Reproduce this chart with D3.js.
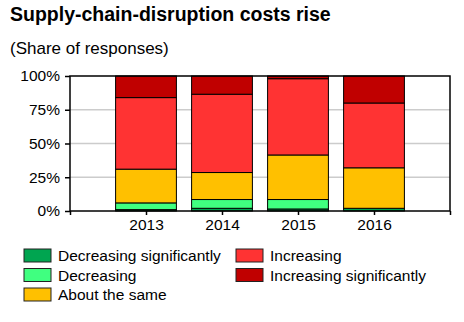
<!DOCTYPE html>
<html>
<head>
<meta charset="utf-8">
<script src="https://cdn.jsdelivr.net/npm/d3@7"></script>
<style>
  body { margin: 0; background: #fff; }
  text { font-family: "Liberation Sans", Arial, sans-serif; fill: #000; }
</style>
</head>
<body>
<script>
// data (percent of responses)
let years = ["2013", "2014", "2015", "2016"];
let decSig = [1, 2, 1.5, 2];
let dec = [5, 6.5, 7, 0];
let same = [25, 20, 33, 30];
let inc = [53, 58, 56.5, 48];
let incSig = [16, 13.5, 2, 20];

let seriesNames = ["Decreasing significantly", "Decreasing", "About the same", "Increasing", "Increasing significantly"];
let seriesColors = ["#00a550", "#40ff80", "#ffc000", "#ff3333", "#c00000"];
let yTicks = [0, 25, 50, 75, 100];

let rows = years.map((y, i) => ({
    year: y,
    "Decreasing significantly": decSig[i],
    "Decreasing": dec[i],
    "About the same": same[i],
    "Increasing": inc[i],
    "Increasing significantly": incSig[i]
}));

let svg = d3.select("body").append("svg")
    .attr("width", 464)
    .attr("height", 322);

svg.append("text")
    .attr("x", 10).attr("y", 21)
    .style("font-size", "19.5px").style("font-weight", "bold")
    .text("Supply-chain-disruption costs rise");

svg.append("text")
    .attr("x", 10).attr("y", 54)
    .style("font-size", "17px")
    .text("(Share of responses)");

let plotL = 70, plotR = 450, plotT = 76, plotB = 211;

// years sit on a linear axis with a half-empty slot at each end
let xScale = d3.scaleLinear().domain([2012, 2017]).range([plotL, plotR]);
let yScale = d3.scaleLinear().domain([0, 100]).range([plotB, plotT]);
let barW = (xScale(2013) - xScale(2012)) * 0.8;

// gridlines
svg.append("g")
    .selectAll("line")
    .data(yTicks.filter(d => d > 0 && d < 100))
    .enter().append("line")
    .attr("x1", plotL).attr("x2", plotR)
    .attr("y1", d => yScale(d)).attr("y2", d => yScale(d))
    .attr("stroke", "#cccccc").attr("stroke-width", 1.5);

let stack = d3.stack().keys(seriesNames)(rows);

svg.append("g")
    .selectAll("g")
    .data(stack)
    .enter().append("g")
    .attr("fill", (d, i) => seriesColors[i])
    .selectAll("rect")
    .data(d => d.filter(p => p[1] - p[0] > 0))
    .enter().append("rect")
    .attr("x", d => xScale(+d.data.year) - barW / 2)
    .attr("width", barW)
    .attr("y", d => yScale(d[1]))
    .attr("height", d => yScale(d[0]) - yScale(d[1]))
    .attr("stroke", "#000").attr("stroke-width", 1);

// frame
svg.append("rect")
    .attr("x", plotL).attr("y", plotT)
    .attr("width", plotR - plotL).attr("height", plotB - plotT)
    .attr("fill", "none").attr("stroke", "#000").attr("stroke-width", 1.5);

let yAxis = d3.axisLeft(yScale).tickValues(yTicks).tickFormat(d => d + "%").tickSize(5).tickPadding(5);
let yg = svg.append("g")
    .attr("transform", `translate(${plotL},0)`)
    .call(yAxis);
yg.select(".domain").remove();
yg.selectAll("text").style("font-size", "15.5px").attr("font-family", null);
yg.selectAll("line").attr("stroke-width", 1.5);

let xAxis = d3.axisBottom(xScale).tickValues([2012, 2013, 2014, 2015, 2016, 2017])
    .tickFormat(d => years.includes(String(d)) ? String(d) : "").tickSize(4).tickPadding(4);
let xg = svg.append("g")
    .attr("transform", `translate(0,${plotB})`)
    .call(xAxis);
xg.select(".domain").remove();
xg.selectAll("text").style("font-size", "15.5px").attr("font-family", null);
xg.selectAll("line").attr("stroke-width", 1.5);

// legend
let legendPos = [[24, 249], [24, 268.5], [24, 288], [236, 249], [236, 268.5]];
let lg = svg.append("g");
seriesNames.forEach((name, i) => {
    let [lx, ly] = legendPos[i];
    lg.append("rect")
        .attr("x", lx).attr("y", ly)
        .attr("width", 27).attr("height", 13)
        .attr("fill", seriesColors[i])
        .attr("stroke", "#222").attr("stroke-width", 1);
    lg.append("text")
        .attr("x", lx + 34).attr("y", ly + 12)
        .style("font-size", "15.5px")
        .text(name);
});
</script>
</body>
</html>
